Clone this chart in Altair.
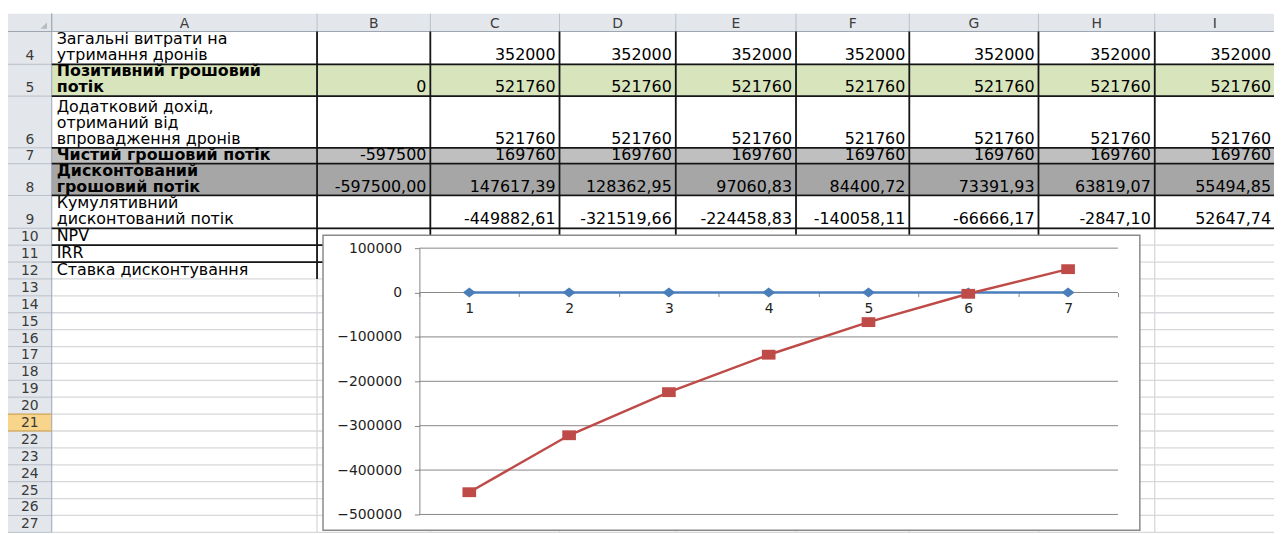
import altair as alt
import pandas as pd

# ---------------- data ----------------
column_letters = ["A", "B", "C", "D", "E", "F", "G", "H", "I"]
sheet_rows = list(range(4, 28))
periods = [1, 2, 3, 4, 5, 6, 7]

label_costs = ["Загальні витрати на", "утримання дронів"]
label_positive = ["Позитивний грошовий", "потік"]
label_income = ["Додатковий дохід,", "отриманий від", "впровадження дронів"]
label_net = ["Чистий грошовий потік"]
label_discounted = ["Дисконтований", "грошовий потік"]
label_cumulative = ["Кумулятивний", "дисконтований потік"]
label_npv = ["NPV"]
label_irr = ["IRR"]
label_rate = ["Ставка дисконтування"]

# values of columns B..I
costs = [None, 352000, 352000, 352000, 352000, 352000, 352000, 352000]
positive_flow = [0, 521760, 521760, 521760, 521760, 521760, 521760, 521760]
extra_income = [None, 521760, 521760, 521760, 521760, 521760, 521760, 521760]
net_flow = [-597500, 169760, 169760, 169760, 169760, 169760, 169760, 169760]
discounted_flow = [-597500.00, 147617.39, 128362.95, 97060.83, 84400.72, 73391.93, 63819.07, 55494.85]
cumulative_flow = [None, -449882.61, -321519.66, -224458.83, -140058.11, -66666.17, -2847.10, 52647.74]

# chart series
series_zero = [0, 0, 0, 0, 0, 0, 0]
series_cumulative = [-449882.61, -321519.66, -224458.83, -140058.11, -66666.17, -2847.10, 52647.74]
y_ticks = [100000, 0, -100000, -200000, -300000, -400000, -500000]

# ---------------- layout (reference pixel geometry) ----------------
W, H = 1274, 526
OX, OY = 8, 8
col_edges = [8, 52, 319, 433, 563, 680, 801, 915, 1045, 1162, 1283]
HEAD_T, HEAD_B = 12, 30
row_span = {4: (30, 63), 5: (63, 95), 6: (95, 147), 7: (147, 163), 8: (163, 195), 9: (195, 228)}
for r in range(10, 28):
    row_span[r] = (228 + 17 * (r - 10), 245 + 17 * (r - 10))
SELECTED_ROW = 21
FRAME = (325, 235, 1147, 532)
PX0, PX1 = 422, 1125       # plot area x
PYT, PYB = 248, 516        # plot area y (top / bottom)
LINE_H = 16

FONT = "DejaVu Sans"
HEADER_FILL = "#E3E7EC"
HEADER_LINE = "#B9C0C9"
GRID = "#D6D8DB"
BORDER = "#151515"
GRAY = "#868686"
BLUE = "#4A7EBB"
RED = "#BE4B48"
TXT = "#1F1F1F"

# ---------------- sheet tables ----------------
fills = []
fills.append(dict(x0=col_edges[0], x1=col_edges[-1], y0=HEAD_T, y1=HEAD_B, c=HEADER_FILL))
fills.append(dict(x0=col_edges[0], x1=col_edges[1], y0=HEAD_B, y1=row_span[27][1], c=HEADER_FILL))
sr = row_span[SELECTED_ROW]
fills.append(dict(x0=col_edges[0], x1=col_edges[1], y0=sr[0], y1=sr[1], c="#F8D58A"))
for r, c in [(5, "#D8E4BC"), (7, "#BFBFBF"), (8, "#A6A6A6")]:
    fills.append(dict(x0=col_edges[1], x1=col_edges[-1], y0=row_span[r][0], y1=row_span[r][1], c=c))
fills_df = pd.DataFrame(fills)

lines = []
# light cell gridlines
for r in sheet_rows:
    y = row_span[r][1]
    lines.append(dict(x0=col_edges[1], x1=col_edges[-1], y0=y, y1=y, c=GRID, w=1.3))
for x in col_edges[2:-1]:
    lines.append(dict(x0=x, x1=x, y0=HEAD_B, y1=row_span[27][1], c=GRID, w=1.3))
# header separators
for x in col_edges[1:-1]:
    lines.append(dict(x0=x, x1=x, y0=HEAD_T, y1=HEAD_B, c=HEADER_LINE, w=1))
for r in sheet_rows:
    y = row_span[r][1]
    lines.append(dict(x0=col_edges[0], x1=col_edges[1], y0=y, y1=y, c=HEADER_LINE, w=1))
lines.append(dict(x0=col_edges[0], x1=col_edges[-1], y0=HEAD_B, y1=HEAD_B, c="#9EA6B1", w=1))
lines.append(dict(x0=col_edges[1], x1=col_edges[1], y0=HEAD_T, y1=row_span[27][1], c="#9EA6B1", w=1))
lines.append(dict(x0=col_edges[0], x1=col_edges[1], y0=sr[0], y1=sr[0], c="#E0A43A", w=1))
lines.append(dict(x0=col_edges[0], x1=col_edges[1], y0=sr[1], y1=sr[1], c="#E0A43A", w=1))
# black table borders
for r in range(4, 10):
    y = row_span[r][1]
    lines.append(dict(x0=col_edges[1], x1=col_edges[-1], y0=y, y1=y, c=BORDER, w=1.8))
for r in (10, 11):
    y = row_span[r][1]
    lines.append(dict(x0=col_edges[1], x1=col_edges[8], y0=y, y1=y, c=BORDER, w=1.8))
for x in col_edges[2:-1]:
    lines.append(dict(x0=x, x1=x, y0=row_span[4][0], y1=row_span[9][1], c=BORDER, w=1.8))
for x in col_edges[2:9]:
    lines.append(dict(x0=x, x1=x, y0=row_span[10][0], y1=row_span[12][1], c=BORDER, w=1.8))
lines_df = pd.DataFrame(lines)

# texts
def fmt(v, dec):
    if v is None:
        return None
    if dec:
        return f"{v:.2f}".replace(".", ",")
    return str(int(v))

table = [
    (4, label_costs, costs, False, False),
    (5, label_positive, positive_flow, False, True),
    (6, label_income, extra_income, False, False),
    (7, label_net, net_flow, False, True),
    (8, label_discounted, discounted_flow, True, True),
    (9, label_cumulative, cumulative_flow, True, False),
    (10, label_npv, [], False, False),
    (11, label_irr, [], False, False),
    (12, label_rate, [], False, False),
]
lab_reg, lab_bold, nums = [], [], []
for r, labels, vals, dec, bold in table:
    base = row_span[r][1] - 4
    n = len(labels)
    for i, t in enumerate(labels):
        d = dict(x=col_edges[1] + 5, y=base - (n - 1 - i) * LINE_H, t=t, c="#000000")
        (lab_bold if bold else lab_reg).append(d)
    for j, v in enumerate(vals):
        s = fmt(v, dec)
        if s is not None:
            nums.append(dict(x=col_edges[3 + j] - 4, y=base, t=s, c="#000000"))

col_heads = [dict(x=(col_edges[1 + k] + col_edges[2 + k]) / 2, y=(HEAD_T + HEAD_B) / 2 + 1, t=L, c="#3C3C3C")
             for k, L in enumerate(column_letters)]
row_heads = [dict(x=(col_edges[0] + col_edges[1]) / 2, y=row_span[r][1] - 4, t=str(r), c="#3A3A3A")
             for r in sheet_rows]

sx = alt.Scale(domain=[OX, OX + W], range=[0, W], nice=False, zero=False)
sy = alt.Scale(domain=[OY, OY + H], range=[0, H], nice=False, zero=False)


def rect_layer(df, **kw):
    return alt.Chart(df).mark_rect(**kw).encode(
        x=alt.X("x0:Q", scale=sx, axis=None), x2="x1",
        y=alt.Y("y0:Q", scale=sy, axis=None), y2="y1",
        color=alt.Color("c:N", scale=None))


def rule_layer(df):
    return alt.Chart(df).mark_rule().encode(
        x=alt.X("x0:Q", scale=sx, axis=None), x2="x1",
        y=alt.Y("y0:Q", scale=sy, axis=None), y2="y1",
        color=alt.Color("c:N", scale=None),
        strokeWidth=alt.StrokeWidth("w:Q", scale=None))


def text_layer(rows, align, baseline, size, bold=False):
    return alt.Chart(pd.DataFrame(rows)).mark_text(
        align=align, baseline=baseline, font=FONT, fontSize=size,
        fontWeight="bold" if bold else "normal").encode(
        x=alt.X("x:Q", scale=sx, axis=None), y=alt.Y("y:Q", scale=sy, axis=None),
        text="t:N", color=alt.Color("c:N", scale=None))


corner_df = pd.DataFrame([dict(x=col_edges[1] - 8, y=HEAD_B - 6)])
corner = alt.Chart(corner_df).mark_point(shape="M1,-1L1,1L-1,1Z", filled=True, size=40,
                                         color="#B4BAC2", opacity=1).encode(
    x=alt.X("x:Q", scale=sx, axis=None), y=alt.Y("y:Q", scale=sy, axis=None))

frame_df = pd.DataFrame([dict(x0=FRAME[0], x1=FRAME[2], y0=FRAME[1], y1=FRAME[3])])
frame = alt.Chart(frame_df).mark_rect(fill="white", stroke="#8A8A8A", strokeWidth=1.5).encode(
    x=alt.X("x0:Q", scale=sx, axis=None), x2="x1",
    y=alt.Y("y0:Q", scale=sy, axis=None), y2="y1")

sheet = alt.layer(
    rect_layer(fills_df),
    rule_layer(lines_df),
    corner,
    text_layer(lab_reg, "left", "alphabetic", 16),
    text_layer(lab_bold, "left", "alphabetic", 16, bold=True),
    text_layer(nums, "right", "alphabetic", 16),
    text_layer(col_heads, "center", "middle", 14),
    text_layer(row_heads, "center", "alphabetic", 14),
    frame,
)

# ---------------- the embedded line chart ----------------
ymin, ymax = min(y_ticks), max(y_ticks)
zero_px = PYB - (0 - ymin) / (ymax - ymin) * (PYB - PYT)
cx = alt.Scale(domain=[periods[0] - 0.5, periods[-1] + 0.5], range=[PX0 - OX, PX1 - OX], nice=False, zero=False)
cy = alt.Scale(domain=[ymin, ymax], range=[PYB - OY, PYT - OY], nice=False, zero=False)

x_tick_values = sorted(set([p - 0.5 for p in periods] + [periods[-1] + 0.5] + periods))
x_axis = alt.Axis(
    orient="bottom", values=x_tick_values, title=None, domain=False, grid=False,
    tickSize=4, tickColor=GRAY, tickWidth=1,
    tickOpacity={"condition": {"test": "datum.value % 1 !== 0", "value": 1}, "value": 0},
    labelExpr="datum.value % 1 === 0 ? format(datum.value, 'd') : ''",
    labelFont=FONT, labelFontSize=14, labelColor=TXT, labelPadding=5,
    labelOverlap=False, labelFlush=False,
    offset=-(H - (zero_px - OY)), zindex=1)
y_axis = alt.Axis(
    orient="left", values=y_ticks, format="d", title=None, grid=False,
    domain=True, domainColor=GRAY, domainWidth=1, tickColor=GRAY, tickSize=5, tickWidth=1,
    labelFont=FONT, labelFontSize=14, labelColor=TXT, labelPadding=13,
    offset=-(PX0 - OX), zindex=1)

grid_df = pd.DataFrame({"lo": periods[0] - 0.5, "hi": periods[-1] + 0.5, "value": y_ticks})
blue_df = pd.DataFrame({"period": periods, "value": series_zero})
red_df = pd.DataFrame({"period": periods, "value": series_cumulative})

grid = alt.Chart(grid_df).mark_rule(color=GRAY, strokeWidth=1).encode(
    x=alt.X("lo:Q", scale=cx, axis=x_axis), x2="hi",
    y=alt.Y("value:Q", scale=cy, axis=y_axis))


def series_layers(df, color, shape, size):
    enc = dict(x=alt.X("period:Q", scale=cx, axis=x_axis),
               y=alt.Y("value:Q", scale=cy, axis=y_axis))
    line = alt.Chart(df).mark_line(color=color, strokeWidth=2.5).encode(**enc)
    pts = alt.Chart(df).mark_point(shape=shape, filled=True, size=size, color=color,
                                   opacity=1).encode(**enc)
    return [line, pts]


chart = alt.layer(
    grid,
    *series_layers(blue_df, BLUE, "M0,-0.85L1.1,0L0,0.85L-1.1,0Z", 140),
    *series_layers(red_df, RED, "M-1.25,-0.9H1.25V0.9H-1.25Z", 121),
)

final = alt.layer(sheet, chart).resolve_scale(x="independent", y="independent").properties(
    width=W, height=H, padding=0, autosize=alt.AutoSizeParams(type="none")
).configure_view(stroke=None)

final.save("out.html", embed_options={"renderer": "svg", "actions": False})
